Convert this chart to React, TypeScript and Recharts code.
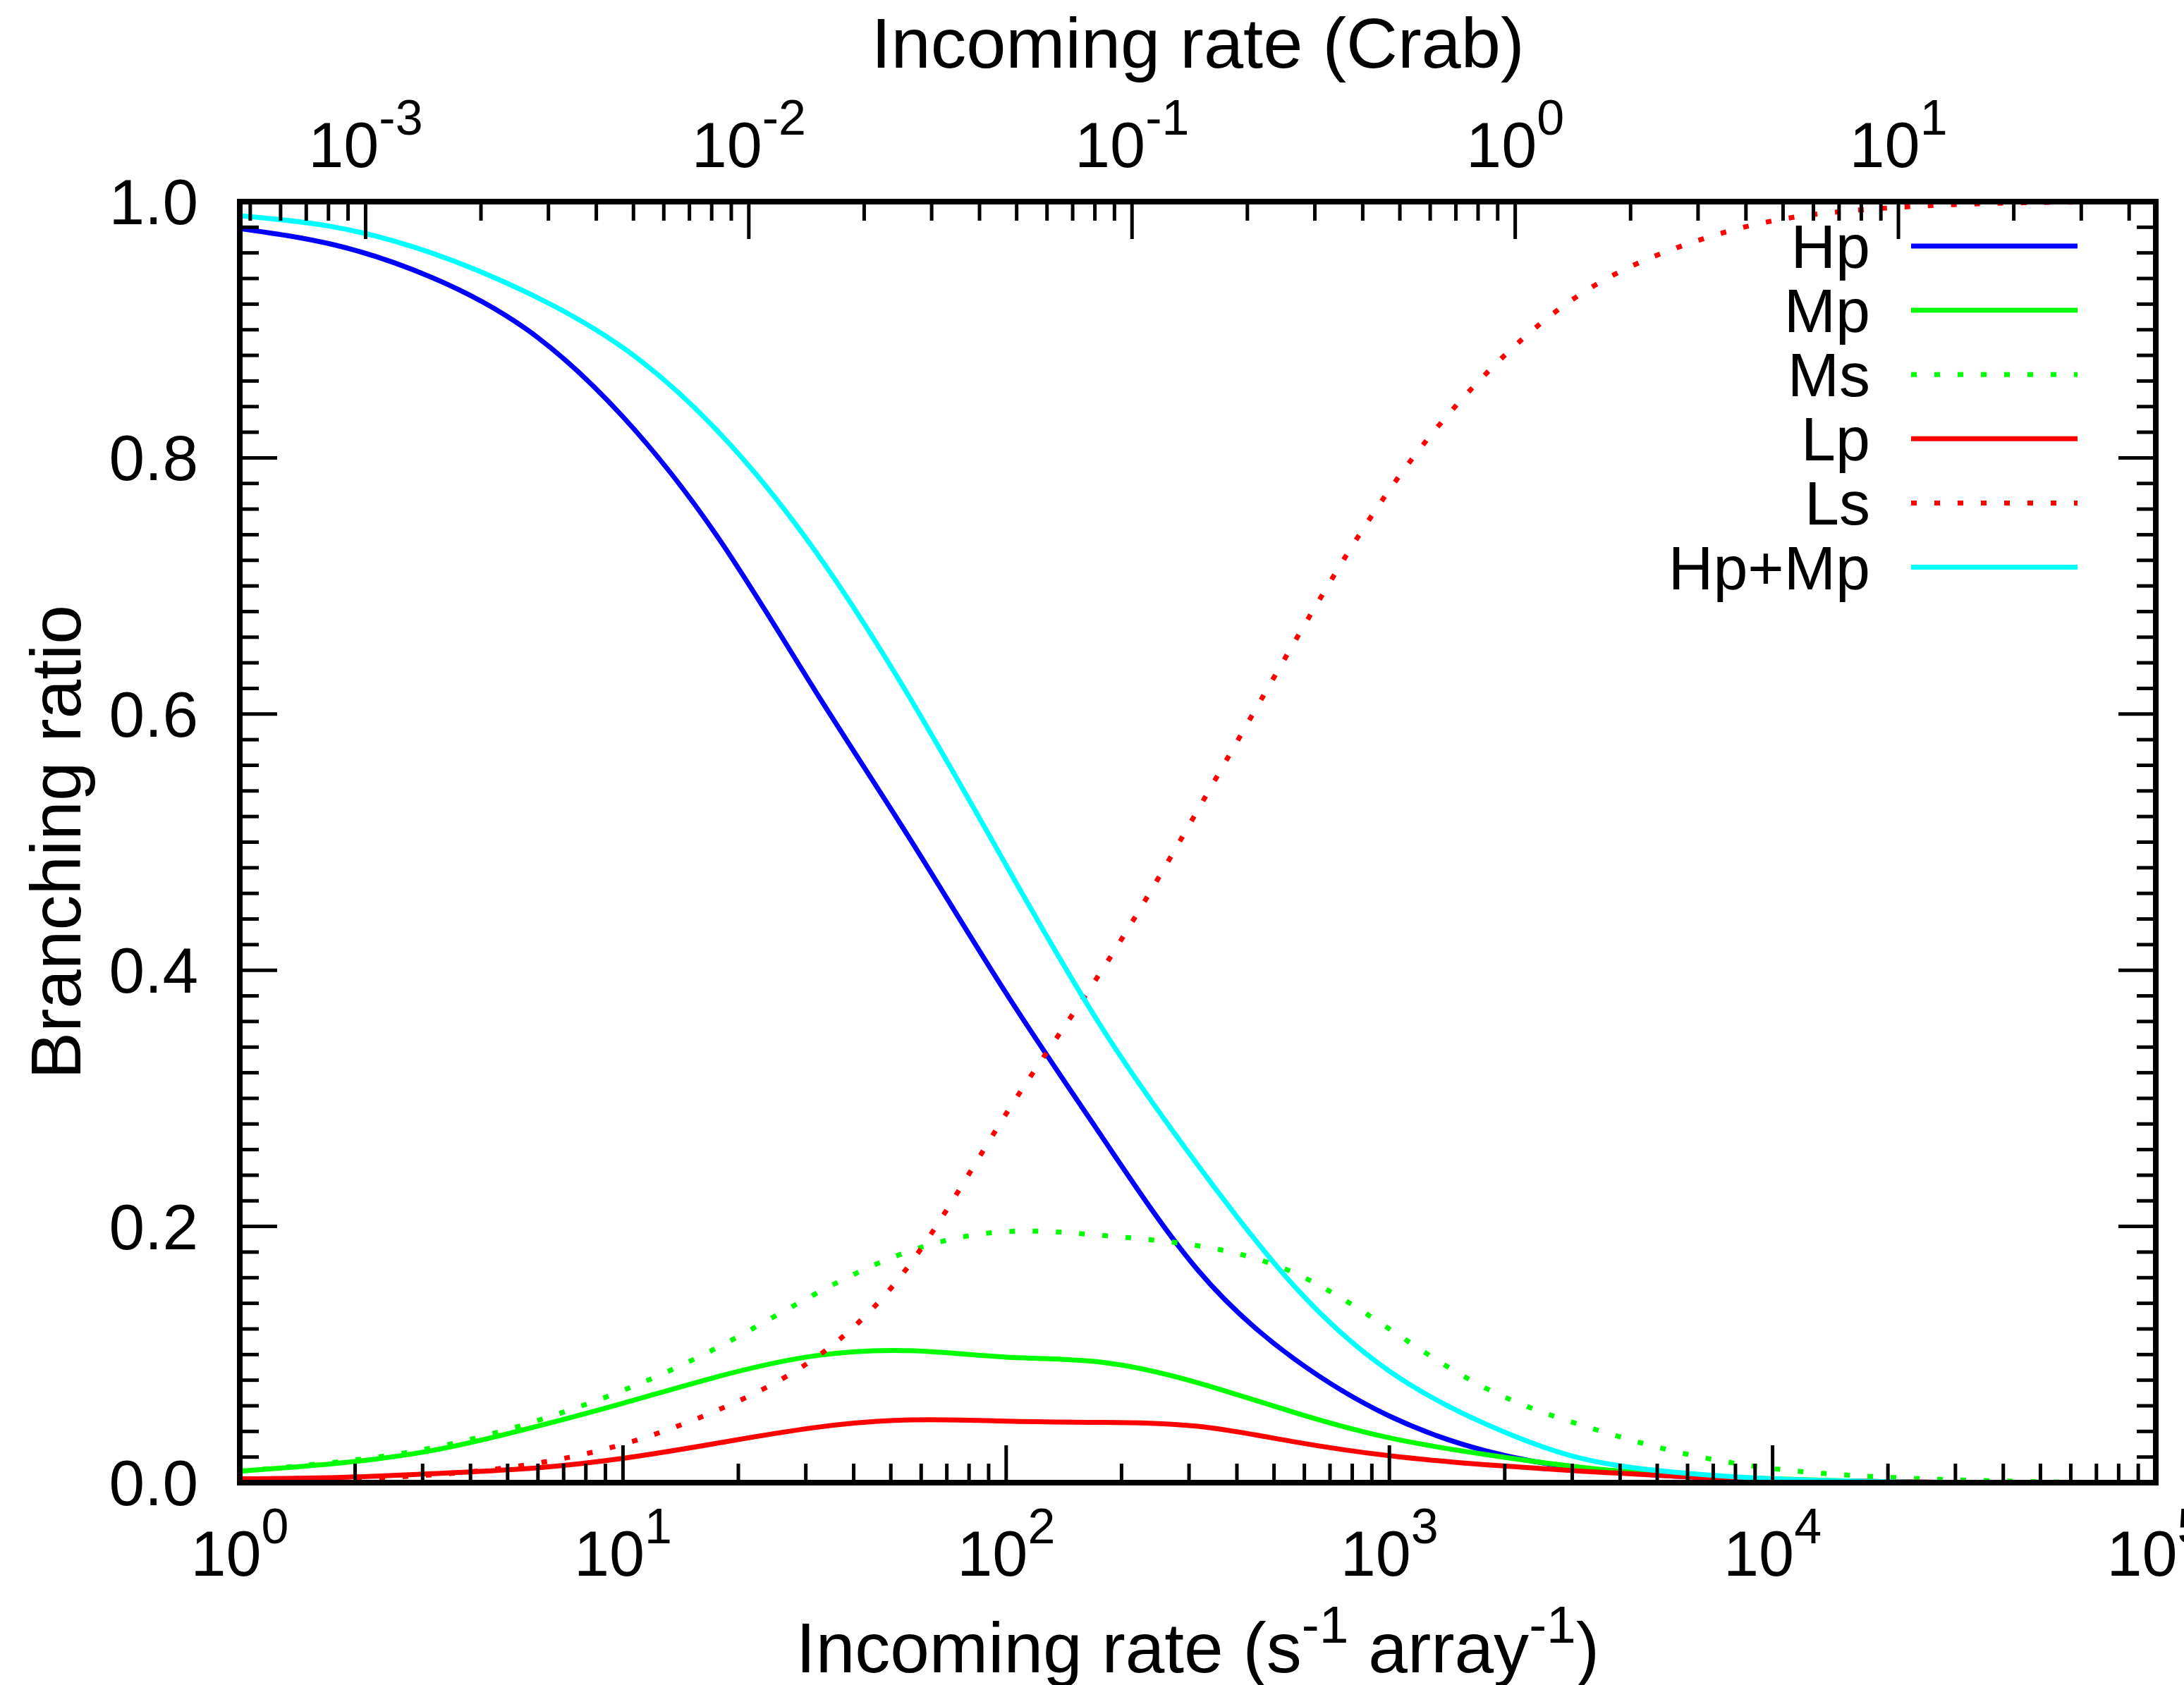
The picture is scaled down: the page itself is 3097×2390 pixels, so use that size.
import React from "react";
import { ComposedChart, Line, XAxis, YAxis, Legend } from "recharts";

// rate in s^-1 array^-1, sampled every quarter decade
const rates = [1, 1.778, 3.162, 5.623, 10, 17.78, 31.62, 56.23, 100, 177.8, 316.2, 562.3, 1000, 1778, 3162, 5623, 10000, 17780, 31620, 56230, 100000];

const hp = [0.979, 0.966, 0.941, 0.9, 0.832, 0.737, 0.619, 0.502, 0.382, 0.27, 0.166, 0.097, 0.052, 0.025, 0.011, 0.005, 0.002, 0.001, 0, 0, 0];
const mp = [0.009, 0.015, 0.025, 0.042, 0.062, 0.083, 0.099, 0.103, 0.098, 0.094, 0.078, 0.055, 0.035, 0.022, 0.012, 0.006, 0.003, 0.001, 0, 0, 0];
const ms = [0.009, 0.016, 0.027, 0.046, 0.072, 0.106, 0.147, 0.181, 0.196, 0.193, 0.185, 0.164, 0.12, 0.074, 0.045, 0.024, 0.011, 0.005, 0.002, 0.0005, 0];
const lp = [0.003, 0.004, 0.007, 0.011, 0.019, 0.031, 0.043, 0.049, 0.048, 0.047, 0.044, 0.032, 0.021, 0.014, 0.009, 0.005, 0.002, 0.001, 0, 0, 0];
const ls = [0.002, 0.003, 0.006, 0.014, 0.03, 0.057, 0.097, 0.171, 0.288, 0.4, 0.525, 0.655, 0.775, 0.865, 0.928, 0.964, 0.985, 0.994, 0.998, 0.9995, 1];
const hpmp = [0.989, 0.98, 0.96, 0.929, 0.886, 0.82, 0.728, 0.612, 0.482, 0.355, 0.248, 0.154, 0.087, 0.046, 0.019, 0.008, 0.003, 0.001, 0, 0, 0];

// 1 Crab in s^-1 array^-1
const CRAB_RATE = 2130;

const rateDecades = [1, 10, 100, 1000, 10000, 100000];
const crabDecades = [0.0001, 0.001, 0.01, 0.1, 1, 10];
const mantissas = [1, 2, 3, 4, 5, 6, 7, 8, 9];

const SERIES = [
  { key: "Hp", values: hp, color: "#0000ff", dash: undefined },
  { key: "Mp", values: mp, color: "#00ff00", dash: undefined },
  { key: "Ms", values: ms, color: "#00ff00", dash: "8 25" },
  { key: "Lp", values: lp, color: "#ff0000", dash: undefined },
  { key: "Ls", values: ls, color: "#ff0000", dash: "8 25" },
  { key: "Hp+Mp", values: hpmp, color: "#00ffff", dash: undefined },
];

const W = 3097;
const H = 2390;
const LEFT = 340;
const TOP = 286;
const RIGHT = 3057;
const BOTTOM = 2103;
const FONT = '"Liberation Sans", Arial, Helvetica, sans-serif';
const MAJOR = 53;
const MINOR = 27;
const TICK_W = 5;
const CURVE_W = 7;

const rows = rates.map((r, i) => {
  const row: Record<string, number> = { rate: r, crab: r / CRAB_RATE };
  SERIES.forEach((s) => (row[s.key] = s.values[i]));
  return row;
});

const crabDomain = [1 / CRAB_RATE, 100000 / CRAB_RATE];

const rateTicks: number[] = [];
rateDecades.forEach((d) =>
  mantissas.forEach((m) => {
    const v = m * d;
    if (v <= 100000) rateTicks.push(v);
  })
);

const crabTicks: number[] = [];
crabDecades.forEach((d) =>
  mantissas.forEach((m) => {
    const v = +(m * d).toPrecision(6);
    if (v >= crabDomain[0] && v <= crabDomain[1]) crabTicks.push(v);
  })
);

const yTicks = Array.from({ length: 51 }, (_, i) => Number((i * 0.02).toFixed(2)));

const isDecade = (v: number) => {
  const l = Math.log10(v);
  return Math.abs(l - Math.round(l)) < 1e-6;
};
const isMajorY = (v: number) => Math.abs(v * 5 - Math.round(v * 5)) < 1e-6;

const axisLine = { stroke: "#000", strokeWidth: 8, strokeLinecap: "square" as const };

function BottomTick({ x, y, payload }: any) {
  const v = payload.value;
  const major = isDecade(v);
  return (
    <g>
      <line x1={x} x2={x} y1={y} y2={y - (major ? MAJOR : MINOR)} stroke="#000" strokeWidth={TICK_W} />
      {major ? (
        <text x={x} y={y + 132} textAnchor="middle" fontSize={90} fontFamily={FONT} fill="#000">
          10
          <tspan dy={-46} fontSize={70}>
            {Math.round(Math.log10(v))}
          </tspan>
        </text>
      ) : null}
    </g>
  );
}

function TopTick({ x, y, payload }: any) {
  const v = payload.value;
  const major = isDecade(v);
  return (
    <g>
      <line x1={x} x2={x} y1={y} y2={y + (major ? MAJOR : MINOR)} stroke="#000" strokeWidth={TICK_W} />
      {major ? (
        <text x={x} y={y - 49} textAnchor="middle" fontSize={90} fontFamily={FONT} fill="#000">
          10
          <tspan dy={-46} fontSize={70}>
            {Math.round(Math.log10(v))}
          </tspan>
        </text>
      ) : null}
    </g>
  );
}

function LeftTick({ x, y, payload }: any) {
  const v = payload.value;
  const major = isMajorY(v);
  return (
    <g>
      <line x1={x} x2={x + (major ? MAJOR : MINOR)} y1={y} y2={y} stroke="#000" strokeWidth={TICK_W} />
      {major ? (
        <text x={x - 59} y={y + 32} textAnchor="end" fontSize={91} fontFamily={FONT} fill="#000">
          {v.toFixed(1)}
        </text>
      ) : null}
    </g>
  );
}

function RightTick({ x, y, payload }: any) {
  const major = isMajorY(payload.value);
  return <line x1={x} x2={x - (major ? MAJOR : MINOR)} y1={y} y2={y} stroke="#000" strokeWidth={TICK_W} />;
}

const midX = (LEFT + RIGHT) / 2;
const midY = (TOP + BOTTOM) / 2;

function BottomTitle() {
  return (
    <text x={midX} y={2372} textAnchor="middle" fontSize={100} fontFamily={FONT} fill="#000">
      Incoming rate (s
      <tspan dy={-42} fontSize={75}>-1</tspan>
      <tspan dy={42}> array</tspan>
      <tspan dy={-42} fontSize={75}>-1</tspan>
      <tspan dy={42}>)</tspan>
    </text>
  );
}

function TopTitle() {
  return (
    <text x={midX} y={96} textAnchor="middle" fontSize={101} fontFamily={FONT} fill="#000">
      Incoming rate (Crab)
    </text>
  );
}

function LeftTitle() {
  return (
    <text
      x={114}
      y={midY}
      transform={`rotate(-90, 114, ${midY})`}
      textAnchor="middle"
      fontSize={100}
      fontFamily={FONT}
      fill="#000"
    >
      Branching ratio
    </text>
  );
}

function LegendBox() {
  return (
    <svg width={900} height={620}>
      {SERIES.map((s, i) => {
        const cy = 59 + i * 91.1;
        return (
          <g key={s.key}>
            <text x={552} y={cy + 31} textAnchor="end" fontSize={88} fontFamily={FONT} fill="#000">
              {s.key}
            </text>
            <line x1={610} x2={846} y1={cy} y2={cy} stroke={s.color} strokeWidth={CURVE_W} strokeDasharray={s.dash} />
          </g>
        );
      })}
    </svg>
  );
}

export default function App() {
  return (
    <div style={{ position: "absolute", left: 0, top: 0, width: W, height: H, overflow: "hidden", background: "#fff" }}>
      <ComposedChart
        width={W}
        height={H}
        data={rows}
        margin={{ top: 0, right: 0, bottom: 0, left: 0 }}
        style={{ fontFamily: FONT }}
      >
        <XAxis
          xAxisId="rate"
          dataKey="rate"
          type="number"
          scale="log"
          domain={[1, 100000]}
          allowDataOverflow
          ticks={rateTicks}
          interval={0}
          tickSize={0}
          tickMargin={0}
          tick={<BottomTick />}
          axisLine={axisLine}
          height={H - BOTTOM}
          label={<BottomTitle />}
        />
        <XAxis
          xAxisId="crab"
          dataKey="crab"
          orientation="top"
          type="number"
          scale="log"
          domain={crabDomain}
          allowDataOverflow
          ticks={crabTicks}
          interval={0}
          tickSize={0}
          tickMargin={0}
          tick={<TopTick />}
          axisLine={axisLine}
          height={TOP}
          label={<TopTitle />}
        />
        <YAxis
          yAxisId="ratio"
          type="number"
          domain={[0, 1]}
          allowDataOverflow
          ticks={yTicks}
          interval={0}
          tickSize={0}
          tickMargin={0}
          tick={<LeftTick />}
          axisLine={axisLine}
          width={LEFT}
          label={<LeftTitle />}
        />
        <YAxis
          yAxisId="right"
          orientation="right"
          type="number"
          domain={[0, 1]}
          allowDataOverflow
          ticks={yTicks}
          interval={0}
          tickSize={0}
          tickMargin={0}
          tick={<RightTick />}
          axisLine={axisLine}
          width={W - RIGHT}
        />
        <Line
          xAxisId="crab"
          yAxisId="right"
          dataKey="Hp"
          stroke="none"
          dot={false}
          activeDot={false}
          legendType="none"
          isAnimationActive={false}
        />
        {SERIES.map((s) => (
          <Line
            key={s.key}
            xAxisId="rate"
            yAxisId="ratio"
            type="natural"
            dataKey={s.key}
            name={s.key}
            stroke={s.color}
            strokeWidth={CURVE_W}
            strokeDasharray={s.dash}
            dot={false}
            activeDot={false}
            isAnimationActive={false}
          />
        ))}
        <Legend
          layout="vertical"
          align="center"
          verticalAlign="middle"
          wrapperStyle={{ left: 2100, top: 290, width: 900, height: 620 }}
          content={<LegendBox />}
        />
      </ComposedChart>
    </div>
  );
}
